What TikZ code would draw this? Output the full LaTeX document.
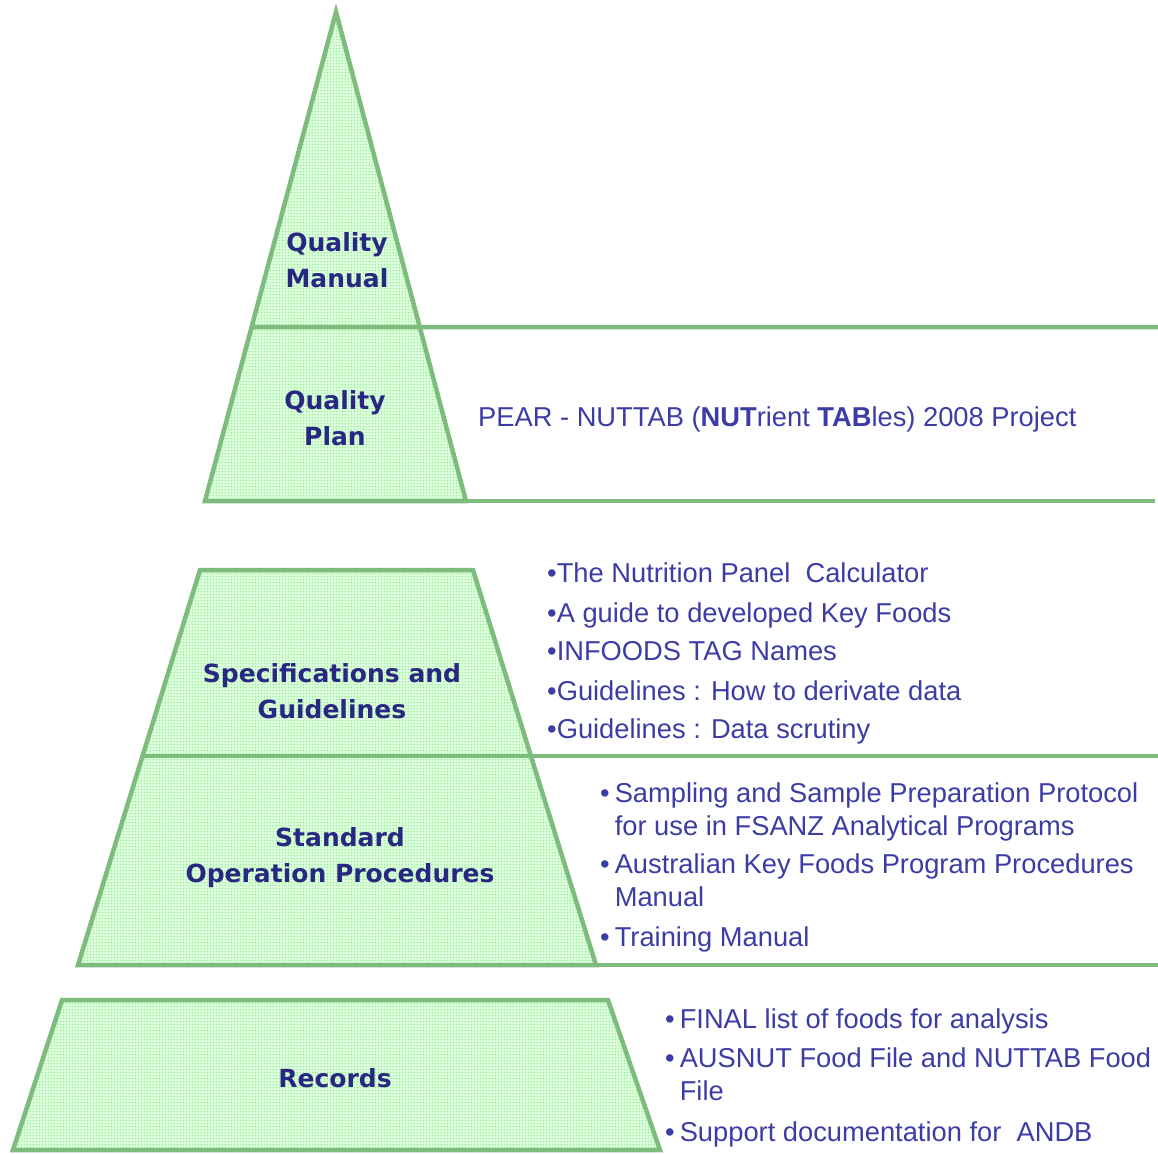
\documentclass[tikz,border=0pt]{standalone}
\usepackage{fontspec}
\setmainfont{Liberation Sans}
\newfontfamily\lblfont{DejaVu Sans}
\usetikzlibrary{patterns,calc}
\pgfdeclarepatternformonly{gdots}{\pgfqpoint{-1pt}{-1pt}}{\pgfqpoint{2pt}{2pt}}{\pgfqpoint{3pt}{3pt}}%
  {\pgfpathrectangle{\pgfqpoint{0pt}{0pt}}{\pgfqpoint{1.1pt}{1.1pt}}\pgfusepath{fill}}
\definecolor{edgegreen}{RGB}{125,188,125}
\definecolor{fillgreen}{RGB}{222,252,222}
\definecolor{dotgreen}{RGB}{20,232,20}
\definecolor{lblblue}{RGB}{40,40,130}
\definecolor{txtblue}{RGB}{60,60,165}
\begin{document}
\begin{tikzpicture}[x=1pt,y=-1pt,
  tier/.style={draw=edgegreen,line width=4.5pt,line join=miter,
    preaction={fill=fillgreen},pattern=gdots,pattern color=dotgreen},
  rule/.style={draw=edgegreen,line width=4.5pt},
  tierlabel/.style={inner sep=0pt,align=center,text=lblblue,
    font=\lblfont\bfseries\fontsize{25}{36}\selectfont,text height=18pt,text depth=0pt},
  item/.style={inner sep=0pt,anchor=base west,text=txtblue,
    font=\fontsize{27.3}{33}\selectfont}
]
\useasboundingbox (0,0) rectangle (1158,1153);
% top triangle (Quality Manual + Quality Plan)
\coordinate (apex) at (336,12);
\coordinate (pbl) at (205,501);
\coordinate (pbr) at (466,501);
\coordinate (qml) at ($(apex)!0.6442!(pbl)$);
\coordinate (qmend) at (1158,327);
\coordinate (qpend) at (1155,501);
\draw[tier] (apex) -- (pbr) -- (pbl) -- cycle;
\draw[rule] (qml) -- (qmend);
\draw[rule] (pbl) -- (qpend);
% middle trapezoid
\coordinate (mtl) at (200,570);
\coordinate (mtr) at (473,570);
\coordinate (mbl) at (78,965);
\coordinate (mbr) at (596,965);
\coordinate (mml) at ($(mtl)!0.4709!(mbl)$);
\coordinate (mmend) at (1158,756);
\coordinate (mbend) at (1158,965);
\draw[tier] (mtl) -- (mtr) -- (mbr) -- (mbl) -- cycle;
\draw[rule] (mml) -- (mml -| mmend);
\draw[rule] (mbl) -- (mbend);
% records trapezoid
\coordinate (rtl) at (62,1000);
\coordinate (rtr) at (608,1000);
\coordinate (rbr) at (660,1150);
\coordinate (rbl) at (13,1150);
\draw[tier] (rtl) -- (rtr) -- (rbr) -- (rbl) -- cycle;
% labels
\node[tierlabel] (qm) at (337,278) {Quality\\Manual};
\node[tierlabel] (qp) at (335,436) {Quality\\Plan};
\node[tierlabel] (sg) at (332,709) {Specifications and\\Guidelines};
\node[tierlabel] (sop) at (340,873.5) {Standard\\Operation Procedures};
\node[tierlabel] (rec) at (335,1078) {Records};
% right-hand texts
\node[item] (pear) at (478,426) {PEAR - NUTTAB (\textbf{NUT}rient \textbf{TAB}les) 2008 Project};
\node[item] (s1) at (547,582) {\textbullet The Nutrition Panel\ \ Calculator};
\node[item] (s2) at (547,622) {\textbullet A guide to developed Key Foods};
\node[item] (s3) at (547,660) {\textbullet INFOODS TAG Names};
\node[item] (s4) at (547,700) {\textbullet Guidelines : How to derivate data};
\node[item] (s5) at (547,738) {\textbullet Guidelines : Data scrutiny};
\node[item] (o1) at (600,802) {\begin{tabular}[t]{@{}l@{\hspace{5pt}}l@{}}\textbullet & Sampling and Sample Preparation Protocol\\ & for use in FSANZ Analytical Programs\end{tabular}};
\node[item] (o2) at (600,873) {\begin{tabular}[t]{@{}l@{\hspace{5pt}}l@{}}\textbullet & Australian Key Foods Program Procedures\\ & Manual\end{tabular}};
\node[item] (o3) at (600,946) {\textbullet\hspace{5pt}Training Manual};
\node[item] (r1) at (665,1028) {\textbullet\hspace{5pt}FINAL list of foods for analysis};
\node[item] (r2) at (665,1067) {\begin{tabular}[t]{@{}l@{\hspace{5pt}}l@{}}\textbullet & AUSNUT Food File and NUTTAB Food\\ & File\end{tabular}};
\node[item] (r3) at (665,1141) {\textbullet\hspace{5pt}Support documentation for\ \ ANDB};
\end{tikzpicture}
\end{document}
